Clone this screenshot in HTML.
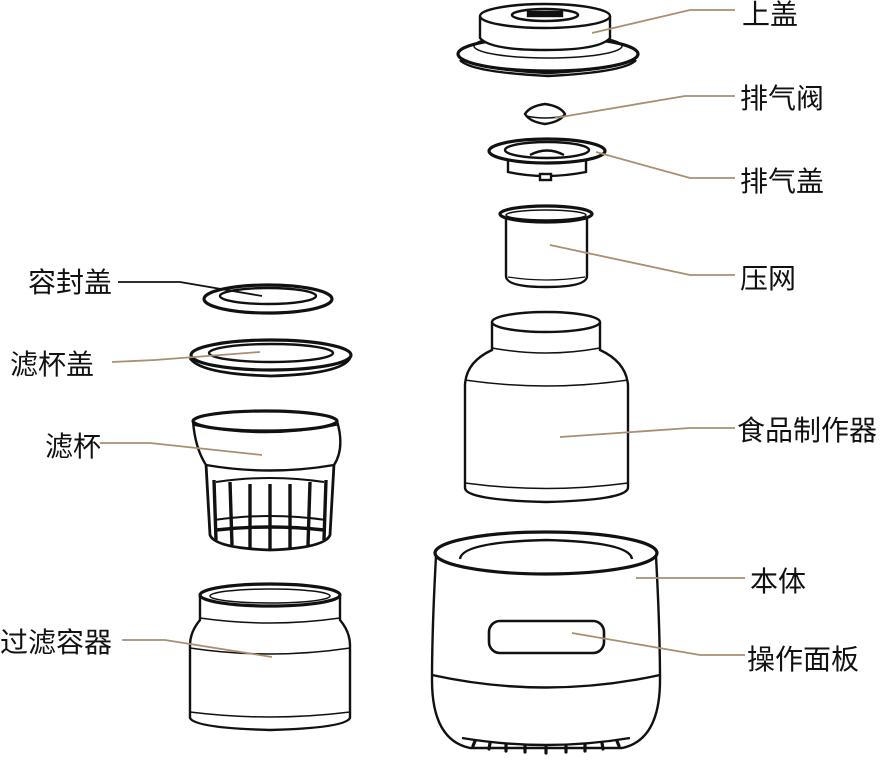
<!DOCTYPE html>
<html><head><meta charset="utf-8"><style>
html,body{margin:0;padding:0;background:#fff;width:884px;height:761px;overflow:hidden}
svg{display:block}
text{font-family:"Liberation Sans","Noto Sans CJK SC",sans-serif;font-size:28px;fill:#111}
</style></head><body>
<svg width="884" height="761" viewBox="0 0 884 761" xmlns="http://www.w3.org/2000/svg">
<g fill="#fff" stroke="#111" stroke-width="2.4">
<!-- top lid -->
<ellipse cx="548" cy="54" rx="90" ry="17" stroke-width="3.2"/>
<path d="M458 54 Q460 68 548 73 Q636 68 638 54" fill="none" stroke-width="2.6"/>
<path d="M460 60 Q470 72 548 76 Q626 72 636 60" fill="none"/>
<ellipse cx="548" cy="46" rx="74" ry="12" fill="none" stroke-width="1.5"/>
<path d="M480 16 L480 38 Q490 50 545 50 Q600 50 610 38 L610 16" />
<ellipse cx="545" cy="16" rx="65" ry="12"/>
<ellipse cx="545" cy="15" rx="33" ry="6" stroke-width="2.5"/>
<rect x="528" y="12" width="34" height="4" fill="#111"/>
<!-- valve -->
<path d="M525 114 Q530 106 545 104 Q560 106 565 114 Q560 122 545 124 Q530 122 525 114Z"/>
<path d="M526 116 Q545 120 564 116" fill="none" stroke-width="1.5"/>
<!-- exhaust cover -->
<path d="M508 158 L508 172 Q545 180 586 172 L586 158" />
<rect x="540" y="174" width="11" height="6"/>
<ellipse cx="547" cy="151" rx="58" ry="12" stroke-width="3.2"/>
<ellipse cx="547" cy="150" rx="42" ry="8"/>
<path d="M530 155 Q547 146 564 155" fill="none"/>
<!-- press net -->
<path d="M506 218 L506 276 Q506 287 546 287 Q587 287 587 276 L587 218" />
<path d="M508 277 Q546 283 585 277" fill="none" stroke-width="1.2"/>
<ellipse cx="546" cy="214" rx="46" ry="8" stroke-width="3.2"/>
<ellipse cx="546" cy="215" rx="40" ry="5" stroke-width="1.5"/>
<!-- food jar -->
<path d="M492 322 L492 350 Q466 362 465 385 L465 488 Q466 500 546 502 Q626 500 628 488 L628 385 Q626 362 600 350 L600 322"/>
<path d="M492 348 Q546 358 600 348" fill="none" stroke-width="1.5"/>
<path d="M465 380 Q546 392 628 380" fill="none" stroke-width="1.5"/>
<path d="M465 483 Q546 494 628 483" fill="none" stroke-width="1.5"/>
<ellipse cx="546" cy="322" rx="54" ry="10"/>
<!-- body -->
<path d="M436 556 Q432 630 432 680 Q432 740 470 748 L622 748 Q660 740 660 680 Q660 630 656 556"/>
<path d="M432 675 Q546 700 660 675" fill="none"/>
<path d="M462 738 Q546 752 630 738" fill="none"/>
<ellipse cx="546" cy="553" rx="111" ry="21" stroke-width="3.2"/>
<path d="M460 559 Q462 542 546 540 Q630 542 632 559" fill="none"/>
<rect x="489" y="621" width="115" height="32" rx="11" stroke-width="2.6"/>
<g stroke-width="3.2" stroke-linecap="round">
<path d="M475 741 l-2 5 M490 743 l-1 6 M506 745 l0 6 M525 746 l0 6 M546 747 l0 6 M566 746 l0 6 M585 745 l0 6 M602 743 l1 6 M617 741 l2 5"/>
</g>
<!-- seal lid -->
<ellipse cx="268" cy="299" rx="64" ry="14" stroke-width="3.2"/>
<ellipse cx="268" cy="296" rx="48" ry="8"/>
<!-- filter lid -->
<path d="M190 358 Q200 374 271 376 Q342 374 350 358" fill="none" stroke-width="2.8"/>
<ellipse cx="271" cy="355" rx="80" ry="15" stroke-width="3.2"/>
<ellipse cx="271" cy="353" rx="62" ry="9"/>
<!-- filter cup -->
<path d="M206 464 L210 535 Q215 548 270 550 Q325 548 330 535 L334 464" stroke-width="2.8"/>
<g stroke-width="3.4">
<path d="M214 480 L216 540 M230 482 L232 545 M250 484 L250 548 M270 484 L270 549 M290 484 L290 548 M310 482 L308 545 M326 480 L324 540"/>
<path d="M216 482 Q270 474 324 482 M214 520 Q270 512 326 520" fill="none" stroke-width="2"/>
<path d="M216 530 Q270 524 324 530" fill="none"/>
</g>
<path d="M193 421 Q195 448 206 465 Q270 476 334 465 Q345 448 337 421" />
<ellipse cx="265" cy="421" rx="72" ry="10" stroke-width="3.2"/>
<path d="M193 425 Q265 440 337 425" fill="none" stroke-width="1.5"/>
<!-- filter container -->
<path d="M200 596 L200 620 Q190 632 190 645 L190 718 Q195 728 270 730 Q345 728 350 718 L350 645 Q350 632 340 620 L340 596"/>
<path d="M200 618 Q270 628 340 618" fill="none" stroke-width="1.5"/>
<path d="M190 648 Q270 660 350 648" fill="none" stroke-width="1.5"/>
<path d="M190 712 Q270 722 350 712" fill="none" stroke-width="1.5"/>
<ellipse cx="270" cy="595" rx="70" ry="11" stroke-width="3.2"/>
<ellipse cx="270" cy="596" rx="60" ry="7" stroke-width="1.5"/>
</g>
<!-- leader lines -->
<g fill="none" stroke="#a88f70" stroke-width="1.8">
<path d="M592 33 L690 10 L735 10"/>
<path d="M555 118 L685 96 L735 96"/>
<path d="M596 152 L690 178 L735 178"/>
<path d="M550 245 L690 275 L735 275"/>
<path d="M560 437 L690 428 L735 428"/>
<path d="M636 578 L745 578"/>
<path d="M572 633 L700 655 L745 655"/>
<path d="M112 362 L155 360 L260 352"/>
<path d="M100 443 L150 443 L262 455"/>
<path d="M122 640 L165 640 L272 657"/>
</g>
<path d="M118 282 L180 282 L262 296" fill="none" stroke="#111" stroke-width="1.8"/>
<text x="742" y="24">上盖</text>
<text x="740" y="108">排气阀</text>
<text x="740" y="191">排气盖</text>
<text x="740" y="288">压网</text>
<text x="737" y="440">食品制作器</text>
<text x="750" y="591">本体</text>
<text x="747" y="669">操作面板</text>
<text x="28" y="292">容封盖</text>
<text x="10" y="374">滤杯盖</text>
<text x="45" y="456">滤杯</text>
<text x="0" y="652">过滤容器</text>
</svg>
</body></html>
